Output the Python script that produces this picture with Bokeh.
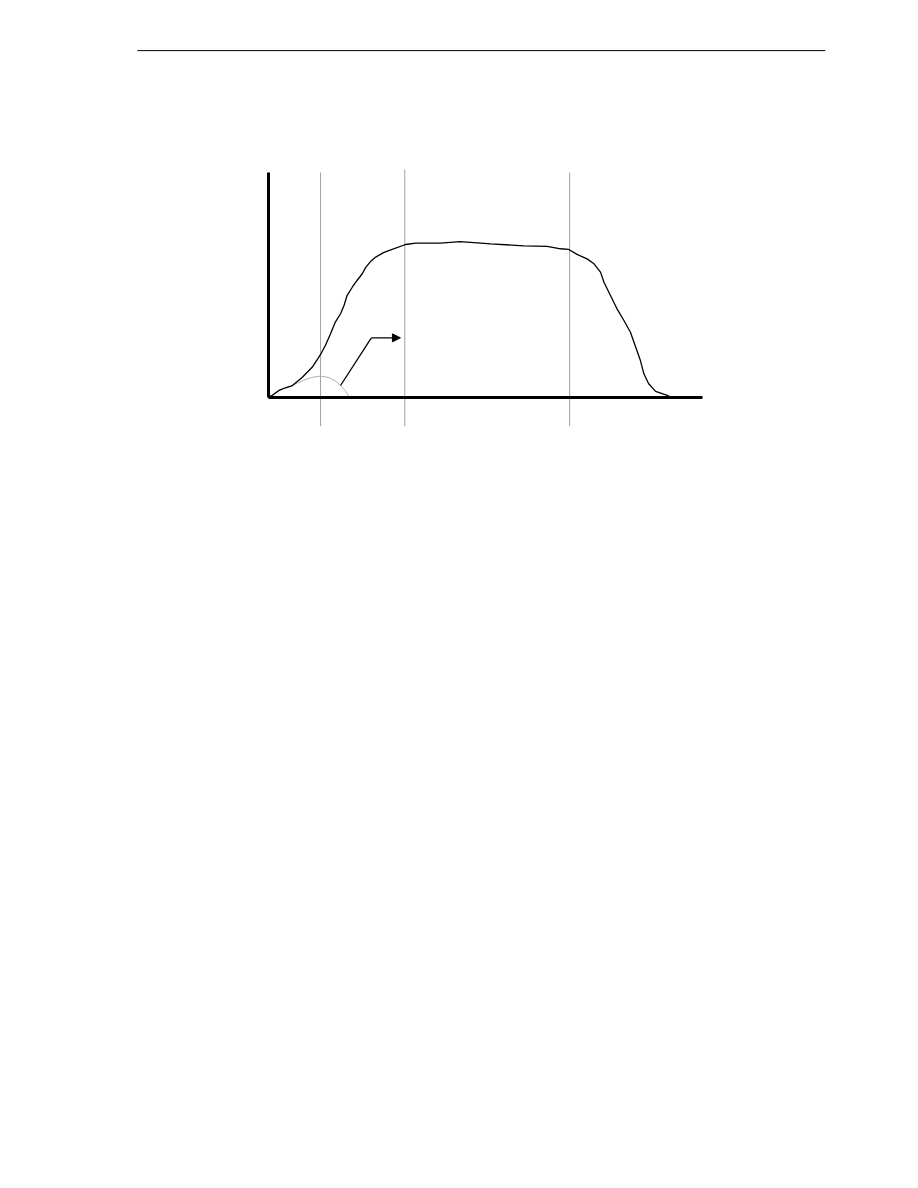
from bokeh.plotting import figure
from bokeh.models import Range1d, FixedTicker, Arrow, NormalHead
from bokeh.embed import file_html
from bokeh.resources import INLINE

# main curve (time vs level)
curve_x = [0, 0.85, 2.4, 3.9, 5.5, 7.8, 10.1, 12.0, 13.1, 14.3, 15.4, 16.6, 17.4, 18.1,
           19.3, 20.4, 21.6, 22.4, 23.5, 24.7, 26.5, 27.7, 31.6, 33.9, 39.6, 44.2, 51.2,
           58.8, 64.2, 67.3, 69.2, 71.1, 73.4, 75.0, 76.5, 77.3, 78.8, 80.3, 81.9, 83.4,
           84.6, 85.7, 86.5, 87.6, 89.2, 91.9, 92.6]
curve_y = [0, 0.9, 3.1, 4.3, 5.3, 9.0, 13.5, 19.1, 23.1, 28.3, 33.5, 37.2, 40.9, 45.3,
           49.0, 52.0, 55.0, 57.8, 60.4, 62.4, 64.4, 65.3, 68.0, 68.6, 68.6, 69.3, 68.3,
           67.4, 67.2, 66.1, 65.8, 63.6, 61.6, 59.4, 55.7, 51.2, 45.3, 39.4, 34.2, 29.0,
           22.4, 16.4, 10.5, 6.1, 2.7, 0.9, 0.2]

# small bump curve
bump_x = [0, 2.4, 5.5, 8.0, 10.0, 12.0, 14.0, 15.5, 16.6, 17.6, 18.5]
bump_y = [0, 3.1, 5.3, 7.6, 8.9, 9.5, 8.8, 7.2, 5.3, 3.2, 0.6]

# vertical phase markers
vline_x = [12.0, 31.4, 69.4]
vline_top = [100, 101.3, 100]
vline_bottom = [-12.8, -12.8, -12.8]

# callout arrow
arrow_x = [16.6, 23.7]
arrow_y = [5.3, 26.5]
arrow_tip_x = 30.4

# page header rule
rule_x = [-30.2, 128.3]
rule_y = [154.2, 154.2]

p = figure(width=850, height=450, output_backend="svg", toolbar_location=None,
           x_range=Range1d(-31.8, 129.5), y_range=Range1d(-14.7, 158.7),
           frame_width=700, frame_height=390,
           min_border_left=130, min_border_top=40, min_border_right=20, min_border_bottom=20)
p.outline_line_color = None
p.grid.visible = False
p.background_fill_color = "white"
p.border_fill_color = "white"

for ax in (p.xaxis, p.yaxis):
    ax.fixed_location = 0
    ax.bounds = (0, 100)
    ax.axis_line_width = 3
    ax.axis_line_color = "black"
    ax.ticker = FixedTicker(ticks=[])
    ax.major_tick_line_color = None
    ax.minor_tick_line_color = None
    ax.major_label_text_color = None

p.segment(x0=vline_x, y0=vline_bottom, x1=vline_x, y1=vline_top,
          line_color="#a0a0a0", line_width=1)
p.line(bump_x, bump_y, line_color="#b0b0b0", line_width=1)
p.line(curve_x, curve_y, line_color="black", line_width=1.3)
p.line(arrow_x, arrow_y, line_color="black", line_width=1.3)
p.add_layout(Arrow(end=NormalHead(size=8, fill_color="black", line_color="black"),
                   x_start=arrow_x[1], y_start=arrow_y[1], x_end=arrow_tip_x, y_end=arrow_y[1],
                   line_color="black", line_width=1.3))
p.line(rule_x, rule_y, line_color="black", line_width=1)

open("out.html", "w").write(file_html(p, INLINE))
